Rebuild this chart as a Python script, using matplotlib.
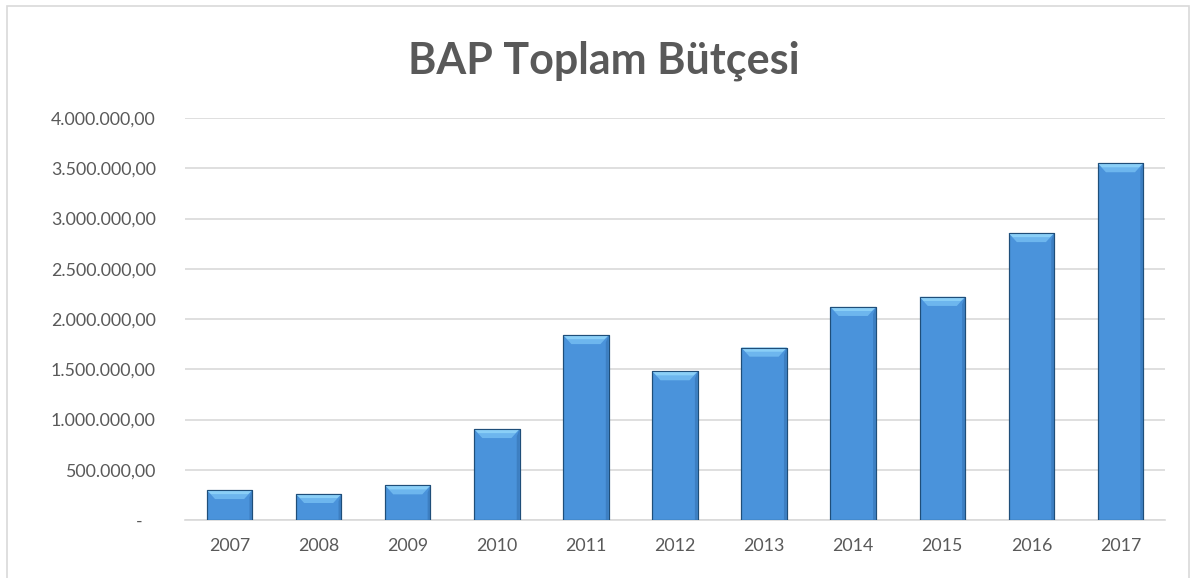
import matplotlib.pyplot as plt
from matplotlib.patches import Polygon, Rectangle
from matplotlib.ticker import FuncFormatter

years = ['2007', '2008', '2009', '2010', '2011', '2012', '2013', '2014', '2015', '2016', '2017']
budget = [298000, 259000, 345000, 905000, 1840000, 1480000, 1715000, 2120000, 2220000, 2855000, 3550000]
yticks = [0, 500000, 1000000, 1500000, 2000000, 2500000, 3000000, 3500000, 4000000]

plt.rcParams['font.family'] = ['Lato', 'DejaVu Sans']
txt = '#595959'


def tr_fmt(v, pos):
    if v == 0:
        return '-   '
    s = '{:,.2f}'.format(v)
    return s.replace(',', 'X').replace('.', ',').replace('X', '.')


fig = plt.figure(figsize=(11.9, 5.78), dpi=100)
fig.patches.append(Rectangle((0.006, -0.01), 0.993, 1.0, transform=fig.transFigure,
                             fill=False, edgecolor='#D9D9D9', linewidth=1.2))
ax = fig.add_axes([0.1555, 0.1003, 0.8235, 0.6955])

x = range(len(years))
bars = ax.bar(x, budget, width=0.51, color='#4A93DB', edgecolor='#1F4E79',
              linewidth=0.8, zorder=3)

# bevel effect on the top and sides of each bar
px = 4000000 / 402.0
for b in bars:
    x0, w, h = b.get_x(), b.get_width(), b.get_height()
    inset = w * 0.18
    dh = 9 * px
    ax.add_patch(Polygon([(x0, h), (x0 + w, h), (x0 + w - inset, h - dh), (x0 + inset, h - dh)],
                         closed=True, facecolor='#6DB6EE', edgecolor='none', zorder=4))
    ax.add_patch(Polygon([(x0, h), (x0 + w, h), (x0 + w - inset * 0.5, h - dh * 0.45), (x0 + inset * 0.5, h - dh * 0.45)],
                         closed=True, facecolor='#8ACFF7', edgecolor='none', zorder=4))
    ax.add_patch(Polygon([(x0 + w, h), (x0 + w - inset * 0.35, h - dh * 0.8), (x0 + w - inset * 0.35, 0), (x0 + w, 0)],
                         closed=True, facecolor='#3D7FC2', edgecolor='none', zorder=4))
    ax.add_patch(Rectangle((x0, 0), w, h, fill=False, edgecolor='#1F4E79', linewidth=0.8, zorder=5))

ax.set_xlim(-0.5, len(years) - 0.5)
ax.set_ylim(0, 4000000)
ax.set_yticks(yticks)
ax.yaxis.set_major_formatter(FuncFormatter(tr_fmt))
ax.set_xticks(list(x))
ax.set_xticklabels(years)
ax.grid(axis='y', color='#D9D9D9', linewidth=1.2, zorder=0)
for sp in ['top', 'right', 'left']:
    ax.spines[sp].set_visible(False)
ax.spines['bottom'].set_color('#D9D9D9')
ax.spines['bottom'].set_linewidth(1.2)
ax.tick_params(axis='both', length=0, colors=txt, labelsize=12.8)
ax.tick_params(axis='y', pad=21)
ax.tick_params(axis='x', pad=13)

fig.text(0.507, 0.895, 'BAP Toplam Bütçesi', ha='center', va='center',
         fontsize=31, fontweight='bold', color=txt)

fig.savefig('out.png', dpi=100)
